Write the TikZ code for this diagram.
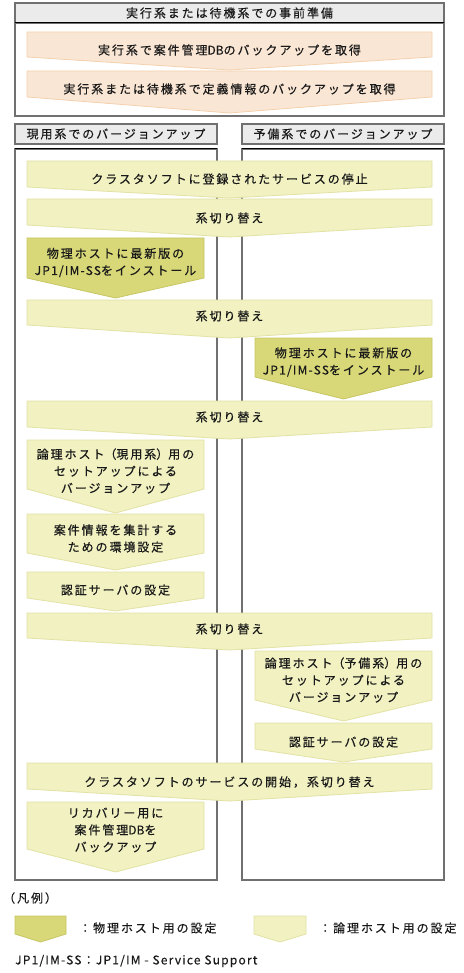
\documentclass[tikz,border=0pt]{standalone}
\usepackage{fontspec}
\setmainfont{Noto Sans CJK JP}[LetterSpace=16, FakeBold=0.4]
\newfontfamily\lat{Noto Sans CJK JP}[FakeBold=0.4]
\newfontfamily\latsp{Noto Sans CJK JP}[LetterSpace=10, FakeBold=0.4]
\definecolor{oranfill}{HTML}{FAE6D4}
\definecolor{oranline}{HTML}{F3D0AE}
\definecolor{logfill}{HTML}{F1F1C2}
\definecolor{logline}{HTML}{E2E2A4}
\definecolor{phyfill}{HTML}{D8D878}
\definecolor{phyline}{HTML}{C6C664}
\definecolor{hdrfill}{HTML}{EBEBEB}
\definecolor{frame}{HTML}{707070}
\newcommand{\flowarr}[6]{%
  \draw[#1] (#2,#4) -- (#3,#4) -- (#3,#5) -- ({(#2+#3)/2},#6) -- (#2,#5) -- cycle;}
\begin{document}
\begin{tikzpicture}[x=1pt,y=-1pt,
  framebox/.style={draw=frame, line width=1.2pt},
  hdrbox/.style={draw=frame, fill=hdrfill, line width=1.2pt},
  oarrow/.style={fill=oranfill, draw=oranline, line width=0.8pt},
  larrow/.style={fill=logfill, draw=logline, line width=0.8pt},
  parrow/.style={fill=phyfill, draw=phyline, line width=0.8pt},
  lbl/.style={inner sep=0pt, align=center, font=\fontsize{12}{17}\selectfont, text=black!90}
]
\useasboundingbox (0,0) rectangle (463,973);
% top box
\draw[framebox] (15,3) rectangle (444,116);
\draw[hdrbox] (15,3) rectangle (444,23);
\draw[black, line width=1pt] (15,23) -- (444,23);
\node[lbl] (hdrtop) at (229.5,13) {実行系または待機系での事前準備};
\flowarr{oarrow}{27}{432}{32}{57}{70}
\node[lbl] (o1) at (229.5,50) {実行系で案件管理{\lat DB}のバックアップを取得};
\flowarr{oarrow}{27}{432}{71}{97}{113}
\node[lbl] (o2) at (229.5,89) {実行系または待機系で定義情報のバックアップを取得};
% column headers
\draw[hdrbox] (15,124) rectangle (217,144);
\node[lbl] (hdrl) at (116,134) {現用系でのバージョンアップ};
\draw[hdrbox] (242,124) rectangle (444,144);
\node[lbl] (hdrr) at (343,134) {予備系でのバージョンアップ};
% column boxes
\draw[framebox] (15,149) rectangle (217,880);
\draw[black, line width=1pt] (15,149) -- (217,149);
\draw[framebox] (242,149) rectangle (444,880);
\draw[black, line width=1pt] (242,149) -- (444,149);
% flow
\flowarr{larrow}{27}{432}{161}{187}{198}
\node[lbl] (a1) at (229.5,179) {クラスタソフトに登録されたサービスの停止};
\flowarr{larrow}{27}{432}{199}{225}{237}
\node[lbl] (a2) at (229.5,218) {系切り替え};
\flowarr{parrow}{27}{204}{238}{278}{298}
\node[lbl] (p1) at (115.5,262.5) {物理ホストに最新版の\\{\latsp JP1/IM-SS}をインストール};
\flowarr{larrow}{27}{432}{300}{325}{338}
\node[lbl] (a3) at (229.5,316) {系切り替え};
\flowarr{parrow}{255}{432}{338}{377}{399}
\node[lbl] (p2) at (343.5,362) {物理ホストに最新版の\\{\latsp JP1/IM-SS}をインストール};
\flowarr{larrow}{27}{432}{401}{427}{439}
\node[lbl] (a4) at (229.5,417) {系切り替え};
\flowarr{larrow}{27}{204}{440}{489}{513}
\node[lbl] (l1) at (115.5,471) {論理ホスト{\lat（}現用系{\lat）}用の\\セットアップによる\\バージョンアップ};
\flowarr{larrow}{27}{204}{514}{553}{570}
\node[lbl] (l2) at (115.5,538.5) {案件情報を集計する\\ための環境設定};
\flowarr{larrow}{27}{204}{572}{598}{611}
\node[lbl] (l3) at (115.5,590) {認証サーバの設定};
\flowarr{larrow}{27}{432}{613}{638}{650}
\node[lbl] (a5) at (229.5,629) {系切り替え};
\flowarr{larrow}{255}{432}{651}{700}{721}
\node[lbl] (l4) at (343.5,680) {論理ホスト{\lat（}予備系{\lat）}用の\\セットアップによる\\バージョンアップ};
\flowarr{larrow}{255}{432}{723}{749}{762}
\node[lbl] (l5) at (343.5,742) {認証サーバの設定};
\flowarr{larrow}{27}{432}{763}{789}{801}
\node[lbl] (a6) at (229.5,782) {クラスタソフトのサービスの開始，系切り替え};
\flowarr{larrow}{27}{204}{802}{849}{872}
\node[lbl] (l6) at (115.5,830) {リカバリー用に\\案件管理{\lat DB}を\\バックアップ};
% legend
\node[lbl, anchor=west] (legtitle) at (3,898) {（凡例）};
\flowarr{parrow}{15}{66}{916}{934}{942}
\node[lbl, anchor=west] (legp) at (79,928) {：物理ホスト用の設定};
\flowarr{larrow}{254}{306}{916}{934}{942}
\node[lbl, anchor=west] (legl) at (319,928) {：論理ホスト用の設定};
\node[lbl, anchor=west] (foot) at (15,961) {\latsp JP1/IM-SS：JP1/IM - Service Support};
\end{tikzpicture}
\end{document}
